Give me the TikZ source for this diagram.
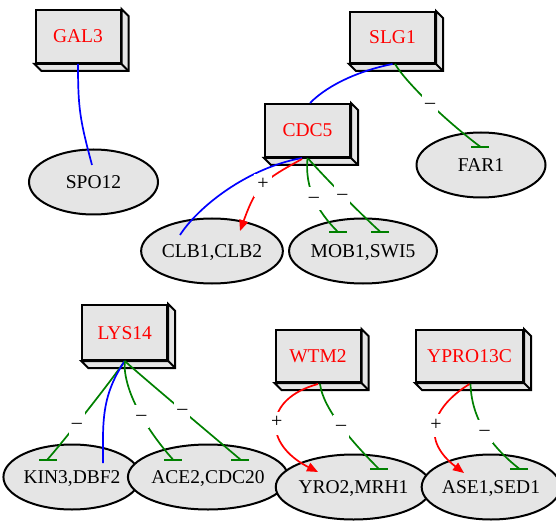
\documentclass[tikz,border=0pt]{standalone}
\usepackage{fontspec}
\setmainfont{Liberation Serif}
\usepackage{tikz}
\usetikzlibrary{shapes.geometric,arrows.meta}

\definecolor{boxgray}{gray}{0.9}
\definecolor{inhgreen}{RGB}{0,128,0}

\tikzset{
    gene/.style={draw, line width=2pt, fill=boxgray, minimum width=85pt, minimum height=53pt, inner sep=0pt,
        text=red, text height=13pt, text depth=0pt, font=\fontsize{19.5}{22}\selectfont},
    target/.style={ellipse, draw, line width=2pt, fill=boxgray, minimum width=129pt, minimum height=65pt, inner sep=0pt,
        text height=13pt, text depth=0pt, font=\fontsize{19.5}{22}\selectfont},
    link/.style={blue, line width=1.7pt},
    act/.style={red, line width=1.7pt, -{Triangle[length=11pt,width=9pt]}},
    inh/.style={inhgreen, line width=1.7pt, -{Bar[width=18pt]}},
    sign/.style={fill=white, inner sep=3pt, text height=13pt, text depth=4pt, text=black, font=\fontsize{20}{22}\selectfont}
}

\newcommand{\boxside}[1]{
    \filldraw[fill=boxgray, line width=2pt] (#1.north east) -- ++(7,-7) -- ([shift={(7,-7)}]#1.south east)
        -- ([shift={(7,-7)}]#1.south west) -- (#1.south west) -- (#1.south east) -- cycle;
    \draw[line width=2pt] (#1.south east) -- ++(7,-7);
}

\begin{document}
\begin{tikzpicture}[x=1pt,y=1pt]
            \useasboundingbox (0,0) rectangle (556,-521);

            \node[gene] (gal3) at (78,-36.5) {GAL3};
            \node[gene, minimum height=51pt] (slg1) at (392.5,-37.5) {SLG1};
            \node[gene] (cdc5) at (307.5,-130.5) {CDC5};
            \node[gene, minimum height=55pt] (lys14) at (124.7,-332.5) {LYS14};
            \node[gene, minimum height=52pt] (wtm2) at (318,-356) {WTM2};
            \node[gene, minimum width=107pt, minimum height=52pt] (ypro13c) at (469.5,-356) {YPRO13C};
            \boxside{gal3}
            \boxside{slg1}
            \boxside{cdc5}
            \boxside{lys14}
            \boxside{wtm2}
            \boxside{ypro13c}

            \node[target] (spo12) at (93.5,-182) {SPO12};
            \node[target] (far1) at (481,-165) {FAR1};
            \node[target] (clb) at (212,-251) {CLB1,CLB2};
            \node[target] (mob) at (363,-251) {MOB1,SWI5};
            \node[target] (kin) at (72,-477) {KIN3,DBF2};
            \node[target] (ace) at (208,-477) {ACE2,CDC20};
            \node[target] (yro) at (353.5,-487) {YRO2,MRH1};
            \node[target] (ase) at (491,-487) {ASE1,SED1};

            \draw[link] (gal3.south) .. controls +(0,-45) and +(-12,45) .. ([xshift=-1.5pt,yshift=17pt]spo12.center);

            \draw[link] (slg1.south) .. controls +(-30,-6) and +(20,20) .. ([xshift=2.5pt]cdc5.north);
            \draw[inh] ([xshift=2.5pt]slg1.south) .. controls +(12,-20) and +(-32,24) .. node[sign]{–}
                ([xshift=-1pt,yshift=18.5pt]far1.center) -- ++(0,-1.5);

            \draw[link] ([xshift=-5.5pt]cdc5.south) .. controls +(-55,-10) and +(18,28) .. ([xshift=-32pt,yshift=16pt]clb.center);
            \draw[act] ([xshift=-5.5pt,yshift=-1pt]cdc5.south) .. controls +(-38,-21) and +(17,47) .. node[sign]{+}
                ([xshift=28pt,yshift=20pt]clb.center);
            \draw[inh] (cdc5.south) .. controls +(-3,-30) and +(-20,20) .. node[sign]{–}
                ([xshift=-25.5pt,yshift=19.5pt]mob.center) -- ++(0,-1.5);
            \draw[inh] ([xshift=1pt,yshift=-1pt]cdc5.south) .. controls +(15,-17) and +(-20,18) .. node[sign]{–}
                ([xshift=17pt,yshift=19.5pt]mob.center) -- ++(0,-1.5);

            \draw[inh] (lys14.south) .. controls +(-15,-22) and +(15,17) .. node[sign,pos=0.6]{–}
                ([xshift=-24.3pt,yshift=17.8pt]kin.center) -- ++(0,-1.5);
            \draw[link] (lys14.south) .. controls +(-24,-36) and +(0,40) .. ([xshift=31pt,yshift=14pt]kin.center);
            \draw[inh] (lys14.south) .. controls +(-2,-30) and +(-25,28) .. node[sign,pos=0.55]{–}
                ([xshift=-35.3pt,yshift=17.8pt]ace.center) -- ++(0,-1.5);
            \draw[inh] (lys14.south) .. controls +(20,-18) and +(-20,17) .. node[sign]{–}
                ([xshift=32pt,yshift=17.8pt]ace.center) -- ++(0,-1.5);

            \draw[act] ([yshift=-1pt]wtm2.south) .. controls +(-55,-15) and +(-55,28) .. node[sign]{+}
                ([xshift=-35.5pt,yshift=15pt]yro.center);
            \draw[inh] ([xshift=2pt,yshift=-1pt]wtm2.south) .. controls +(3,-25) and +(-25,25) .. node[sign]{–}
                ([xshift=25pt,yshift=18.5pt]yro.center) -- ++(0,-1.5);

            \draw[act] ([yshift=-1pt]ypro13c.south) .. controls +(-40,-25) and +(-42,32) .. node[sign]{+}
                ([xshift=-27pt,yshift=14pt]ase.center);
            \draw[inh] ([xshift=1pt,yshift=-1pt]ypro13c.south) .. controls +(1,-35) and +(-28,22) .. node[sign]{–}
                ([xshift=28pt,yshift=18.5pt]ase.center) -- ++(0,-1.5);
\end{tikzpicture}
\end{document}
